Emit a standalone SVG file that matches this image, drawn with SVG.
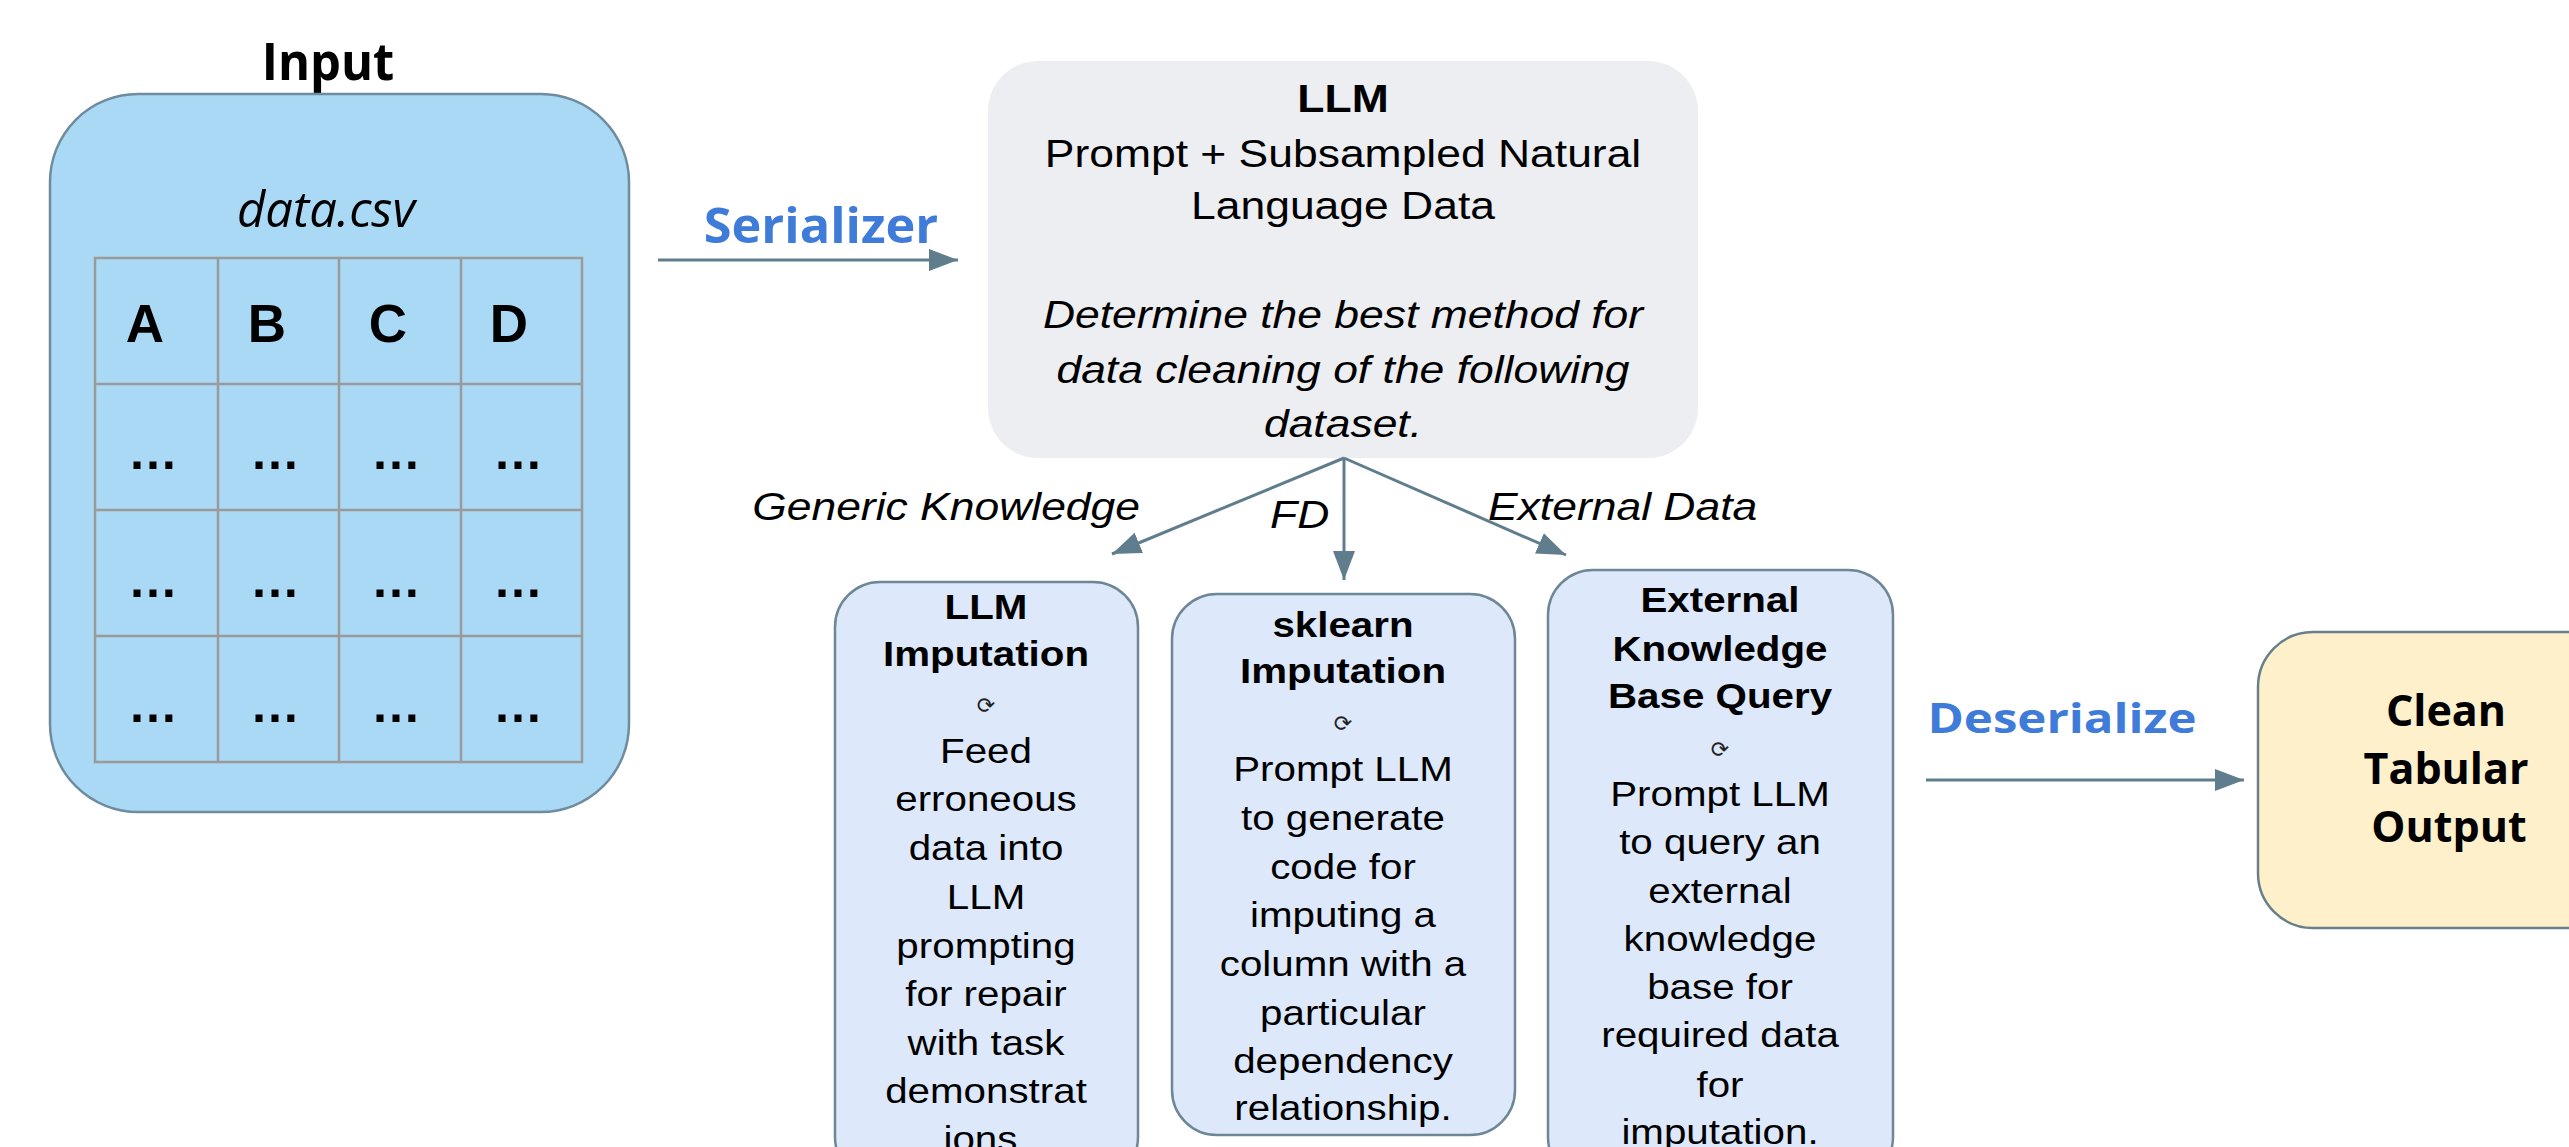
<svg xmlns="http://www.w3.org/2000/svg" width="2569" height="1147" viewBox="0 0 2569 1147">
  <defs>
    <marker id="ah" markerUnits="userSpaceOnUse" markerWidth="32" markerHeight="24" refX="29" refY="12" orient="auto">
      <path d="M0,1 L29,12 L0,23 z" fill="#5f7d8c"/>
    </marker>
  </defs>
  <style>
    .conn { stroke: #5f7d8c; stroke-width: 3; fill: none; }
    .os { font-family: "Open Sans", "Noto Sans", sans-serif; font-weight: 700; }
    .blue { fill: #3f7bd8; }
    .sub { fill: #dde9fb; stroke: #6e8797; stroke-width: 2.5; }
    .boxt { font-family: "Liberation Sans", Arial, sans-serif; font-size: 36px; text-anchor: middle; fill: #000; }
    .b { font-weight: 700; }
    .sym { font-family: "DejaVu Sans", sans-serif; font-size: 22px; text-anchor: middle; fill: #222; }
    .llmt { font-family: "Liberation Sans", Arial, sans-serif; font-size: 39px; text-anchor: middle; fill: #000; }
    .lbl { font-family: "Liberation Sans", Arial, sans-serif; font-size: 39px; font-style: italic; fill: #000; }
    .grid { stroke: #9a9a9a; stroke-width: 2.5; fill: none; }
    .hdr { font-family: "Liberation Sans", Arial, sans-serif; font-size: 53px; font-weight: 700; text-anchor: middle; }
    .dots { font-family: "Liberation Sans", Arial, sans-serif; font-size: 50px; font-weight: 700; text-anchor: middle; }
  </style>
  <rect width="2569" height="1147" fill="#ffffff"/>

  <g id="input">
    <g transform="translate(328 80) scale(0.94 1)">
      <text class="os" x="0" y="0" font-size="52" text-anchor="middle">Input</text>
    </g>
    <rect x="50" y="94" width="579" height="718" rx="88" ry="88" fill="#aad9f6" stroke="#6f8c9e" stroke-width="2.5"/>
    <text x="326" y="227" font-family="'Open Sans', 'Noto Sans', sans-serif" font-style="italic" font-size="49" text-anchor="middle">data.csv</text>
    <g class="grid">
      <rect x="95" y="258" width="487" height="504"/>
      <line x1="218" y1="258" x2="218" y2="762"/>
      <line x1="339" y1="258" x2="339" y2="762"/>
      <line x1="461" y1="258" x2="461" y2="762"/>
      <line x1="95" y1="384" x2="582" y2="384"/>
      <line x1="95" y1="510" x2="582" y2="510"/>
      <line x1="95" y1="636" x2="582" y2="636"/>
    </g>
    <text class="hdr" x="145" y="342">A</text>
    <text class="hdr" x="267" y="342">B</text>
    <text class="hdr" x="388" y="342">C</text>
    <text class="hdr" x="509" y="342">D</text>
    <text class="dots" x="153" y="469">…</text>
    <text class="dots" x="275" y="469">…</text>
    <text class="dots" x="396" y="469">…</text>
    <text class="dots" x="518" y="469">…</text>
    <text class="dots" x="153" y="597">…</text>
    <text class="dots" x="275" y="597">…</text>
    <text class="dots" x="396" y="597">…</text>
    <text class="dots" x="518" y="597">…</text>
    <text class="dots" x="153" y="722">…</text>
    <text class="dots" x="275" y="722">…</text>
    <text class="dots" x="396" y="722">…</text>
    <text class="dots" x="518" y="722">…</text>
  </g>

  <g id="llm">
    <rect x="988" y="61" width="710" height="397" rx="50" ry="50" fill="#eceef1"/>
    <g transform="translate(1343 0) scale(1.14 1)">
      <text class="llmt b" x="0" y="112" font-size="38">LLM</text>
      <text class="llmt" x="0" y="167">Prompt + Subsampled Natural</text>
      <text class="llmt" x="0" y="219">Language Data</text>
      <text class="llmt" x="0" y="328" font-style="italic">Determine the best method for</text>
      <text class="llmt" x="0" y="383" font-style="italic">data cleaning of the following</text>
      <text class="llmt" x="0" y="437" font-style="italic">dataset.</text>
    </g>
  </g>

  <g id="llm-imputation">
    <rect class="sub" x="835" y="582" width="303" height="600" rx="45" ry="45"/>
    <text class="sym" x="986" y="713">⟳</text>
    <g transform="translate(986 0) scale(1.12 1)">
      <text class="boxt b" x="0" y="619">LLM</text>
      <text class="boxt b" x="0" y="666">Imputation</text>
      <text class="boxt" x="0" y="763">Feed</text>
      <text class="boxt" x="0" y="811">erroneous</text>
      <text class="boxt" x="0" y="860">data into</text>
      <text class="boxt" x="0" y="909">LLM</text>
      <text class="boxt" x="0" y="958">prompting</text>
      <text class="boxt" x="0" y="1006">for repair</text>
      <text class="boxt" x="0" y="1055">with task</text>
      <text class="boxt" x="0" y="1103">demonstrat</text>
      <text class="boxt" x="0" y="1151">ions.</text>
    </g>
  </g>

  <g id="sklearn-imputation">
    <rect class="sub" x="1172" y="594" width="343" height="541" rx="45" ry="45"/>
    <text class="sym" x="1343" y="731">⟳</text>
    <g transform="translate(1343 0) scale(1.12 1)">
      <text class="boxt b" x="0" y="637">sklearn</text>
      <text class="boxt b" x="0" y="683">Imputation</text>
      <text class="boxt" x="0" y="781">Prompt LLM</text>
      <text class="boxt" x="0" y="830">to generate</text>
      <text class="boxt" x="0" y="879">code for</text>
      <text class="boxt" x="0" y="927">imputing a</text>
      <text class="boxt" x="0" y="976">column with a</text>
      <text class="boxt" x="0" y="1025">particular</text>
      <text class="boxt" x="0" y="1073">dependency</text>
      <text class="boxt" x="0" y="1120">relationship.</text>
    </g>
  </g>

  <g id="external-kb">
    <rect class="sub" x="1548" y="570" width="345" height="612" rx="45" ry="45"/>
    <text class="sym" x="1720" y="757">⟳</text>
    <g transform="translate(1720 0) scale(1.12 1)">
      <text class="boxt b" x="0" y="612">External</text>
      <text class="boxt b" x="0" y="661">Knowledge</text>
      <text class="boxt b" x="0" y="708">Base Query</text>
      <text class="boxt" x="0" y="806">Prompt LLM</text>
      <text class="boxt" x="0" y="854">to query an</text>
      <text class="boxt" x="0" y="903">external</text>
      <text class="boxt" x="0" y="951">knowledge</text>
      <text class="boxt" x="0" y="999">base for</text>
      <text class="boxt" x="0" y="1047">required data</text>
      <text class="boxt" x="0" y="1097">for</text>
      <text class="boxt" x="0" y="1144">imputation.</text>
    </g>
  </g>

  <g id="output">
    <rect x="2258" y="632" width="400" height="296" rx="55" ry="55" fill="#fdf0cb" stroke="#687f8a" stroke-width="2.5"/>
    <text class="os" x="2446" y="726" font-size="43" text-anchor="middle">Clean</text>
    <text class="os" x="2446" y="784" font-size="43" text-anchor="middle">Tabular</text>
    <text class="os" x="2449" y="842" font-size="43" text-anchor="middle">Output</text>
  </g>

  <g id="connectors">
    <line class="conn" x1="658" y1="260" x2="958" y2="260" marker-end="url(#ah)"/>
    <line class="conn" x1="1344" y1="458" x2="1112" y2="554" marker-end="url(#ah)"/>
    <line class="conn" x1="1344" y1="458" x2="1344" y2="580" marker-end="url(#ah)"/>
    <line class="conn" x1="1344" y1="458" x2="1566" y2="555" marker-end="url(#ah)"/>
    <line class="conn" x1="1926" y1="780" x2="2244" y2="780" marker-end="url(#ah)"/>
    <g transform="translate(821 243) scale(1.03 1)">
      <text class="os blue" x="0" y="0" font-size="49" text-anchor="middle">Serializer</text>
    </g>
    <g transform="translate(2062 733) scale(1.2 1)">
      <text class="os blue" x="0" y="0" font-size="41" text-anchor="middle">Deserialize</text>
    </g>
    <g transform="translate(1140 520) scale(1.14 1)">
      <text class="lbl" x="0" y="0" text-anchor="end">Generic Knowledge</text>
    </g>
    <g transform="translate(1270 528) scale(1.14 1)">
      <text class="lbl" x="0" y="0">FD</text>
    </g>
    <g transform="translate(1488 520) scale(1.14 1)">
      <text class="lbl" x="0" y="0">External Data</text>
    </g>
  </g>
</svg>
